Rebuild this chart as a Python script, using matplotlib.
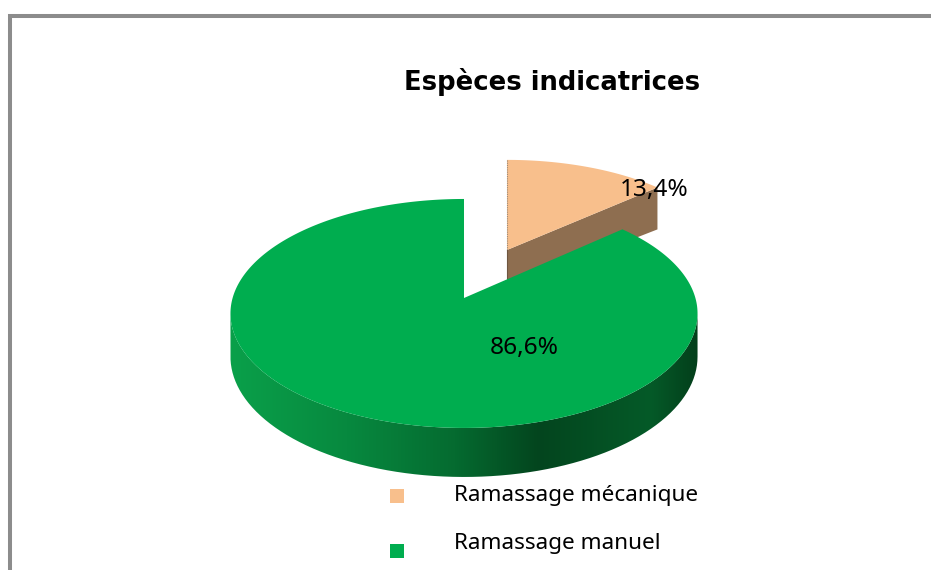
"""Espèces indicatrices: perspective pie with one exploded slice, drawn in pixel coordinates."""
import matplotlib
matplotlib.use('Agg')
import matplotlib.pyplot as plt
import numpy as np
from matplotlib.colors import LinearSegmentedColormap
from matplotlib.patches import PathPatch, Polygon
from matplotlib.path import Path

TITLE = 'Espèces indicatrices'
CATEGORIES = ['Ramassage mécanique', 'Ramassage manuel']
VALUES = [13.4, 86.6]
LABELS = ['13,4%', '86,6%']

ORANGE, ORANGE_DARK = '#F8BF8C', '#8E6E50'
GREEN = '#00AD4F'
BORDER = '#8C8C8C'
FONT = 'Noto Sans'

# perspective of the disc: far side shrinks
P = 0.135
A, B, D = 231.4, 112.4, 42.4


def rim(t, cx, cy, sx=1.0, sy=1.0):
    u, v = np.sin(t), np.cos(t)
    w = 1 + P * v
    return np.column_stack([cx + sx * A * u / w, cy - sy * B * v / w]), D / w


fig = plt.figure(figsize=(9.31, 5.70), dpi=100)
ax = fig.add_axes([0, 0, 1, 1])

edges = np.radians(np.cumsum([0] + VALUES) * 3.6)

# exploded slice: cut face first, then top
cx1, cy1 = 507, 250
t1 = np.linspace(edges[0], edges[1], 60)
pts1, depth1 = rim(t1, cx1, cy1, 0.95, 0.91)
end = pts1[-1]
ax.add_patch(Polygon([(cx1, cy1), end, end + [0, depth1[-1] + 3], (cx1, cy1 + D * 0.9)],
                     closed=True, fc=ORANGE_DARK, ec='none'))
ax.add_patch(Polygon(np.vstack([[cx1, cy1], pts1]), closed=True, fc=ORANGE, ec='none'))
ax.plot([cx1, cx1], [pts1[0, 1], cy1], color='#9A8A7A', lw=0.8, ls=(0, (1, 1)))
ax.plot([cx1, cx1], [cy1, cy1 + 28], color='#6E5640', lw=0.8)

# main slice: visible wall with a horizontal shading, then top
cx2, cy2 = 464, 298
t0 = np.arccos(-P)
t_side = np.linspace(t0, 2 * np.pi - t0, 240)
pts_side, depth_side = rim(t_side, cx2, cy2)
low = pts_side + np.column_stack([np.zeros(len(t_side)), depth_side])
side = np.vstack([pts_side, low[::-1]])
x0, x1 = side[:, 0].min(), side[:, 0].max()
shade = LinearSegmentedColormap.from_list('side', [
    (0.0, '#033F1B'), (0.1, '#055A28'), (0.34, '#03451E'),
    (0.52, '#056B30'), (0.75, '#07893F'), (1.0, '#0AA04A')])
img = ax.imshow(np.linspace(0, 1, 256)[None, :], extent=[x1, x0, 480, 300],
                aspect='auto', cmap=shade, zorder=2)
clip = PathPatch(Path(side), fc='none', ec='none', transform=ax.transData)
ax.add_patch(clip)
img.set_clip_path(clip)

t2 = np.linspace(edges[1], edges[2], 300)
pts2, _ = rim(t2, cx2, cy2)
ax.add_patch(Polygon(np.vstack([[cx2, cy2], pts2]), closed=True, fc=GREEN, ec='none', zorder=3))

ax.text(654, 190, LABELS[0], ha='center', va='center', fontsize=17.6, family=FONT, color='black', zorder=5)
ax.text(524.5, 348, LABELS[1], ha='center', va='center', fontsize=17.6, family=FONT, color='black', zorder=5)

ax.text(552, 82, TITLE, ha='center', va='center', fontsize=18.6, fontweight='bold',
        family='DejaVu Sans', color='black')

# legend, squares and text do not share a pitch in the original
for y_box, y_txt, name, col in zip([496, 551], [495, 543], CATEGORIES, [ORANGE, GREEN]):
    ax.scatter([396.5], [y_box], marker='s', s=90, color=col, linewidths=0, zorder=4)
    ax.text(454, y_txt, name, ha='left', va='center', fontsize=16.2, family=FONT, color='black')

# frame, only top and left fall inside the crop
ax.plot([931, 10, 10], [16, 16, 570], color=BORDER, lw=2.9, solid_joinstyle='miter')

ax.set_xlim(0, 931)
ax.set_ylim(570, 0)
ax.axis('off')
fig.savefig('out.png', dpi=100, facecolor='white')
